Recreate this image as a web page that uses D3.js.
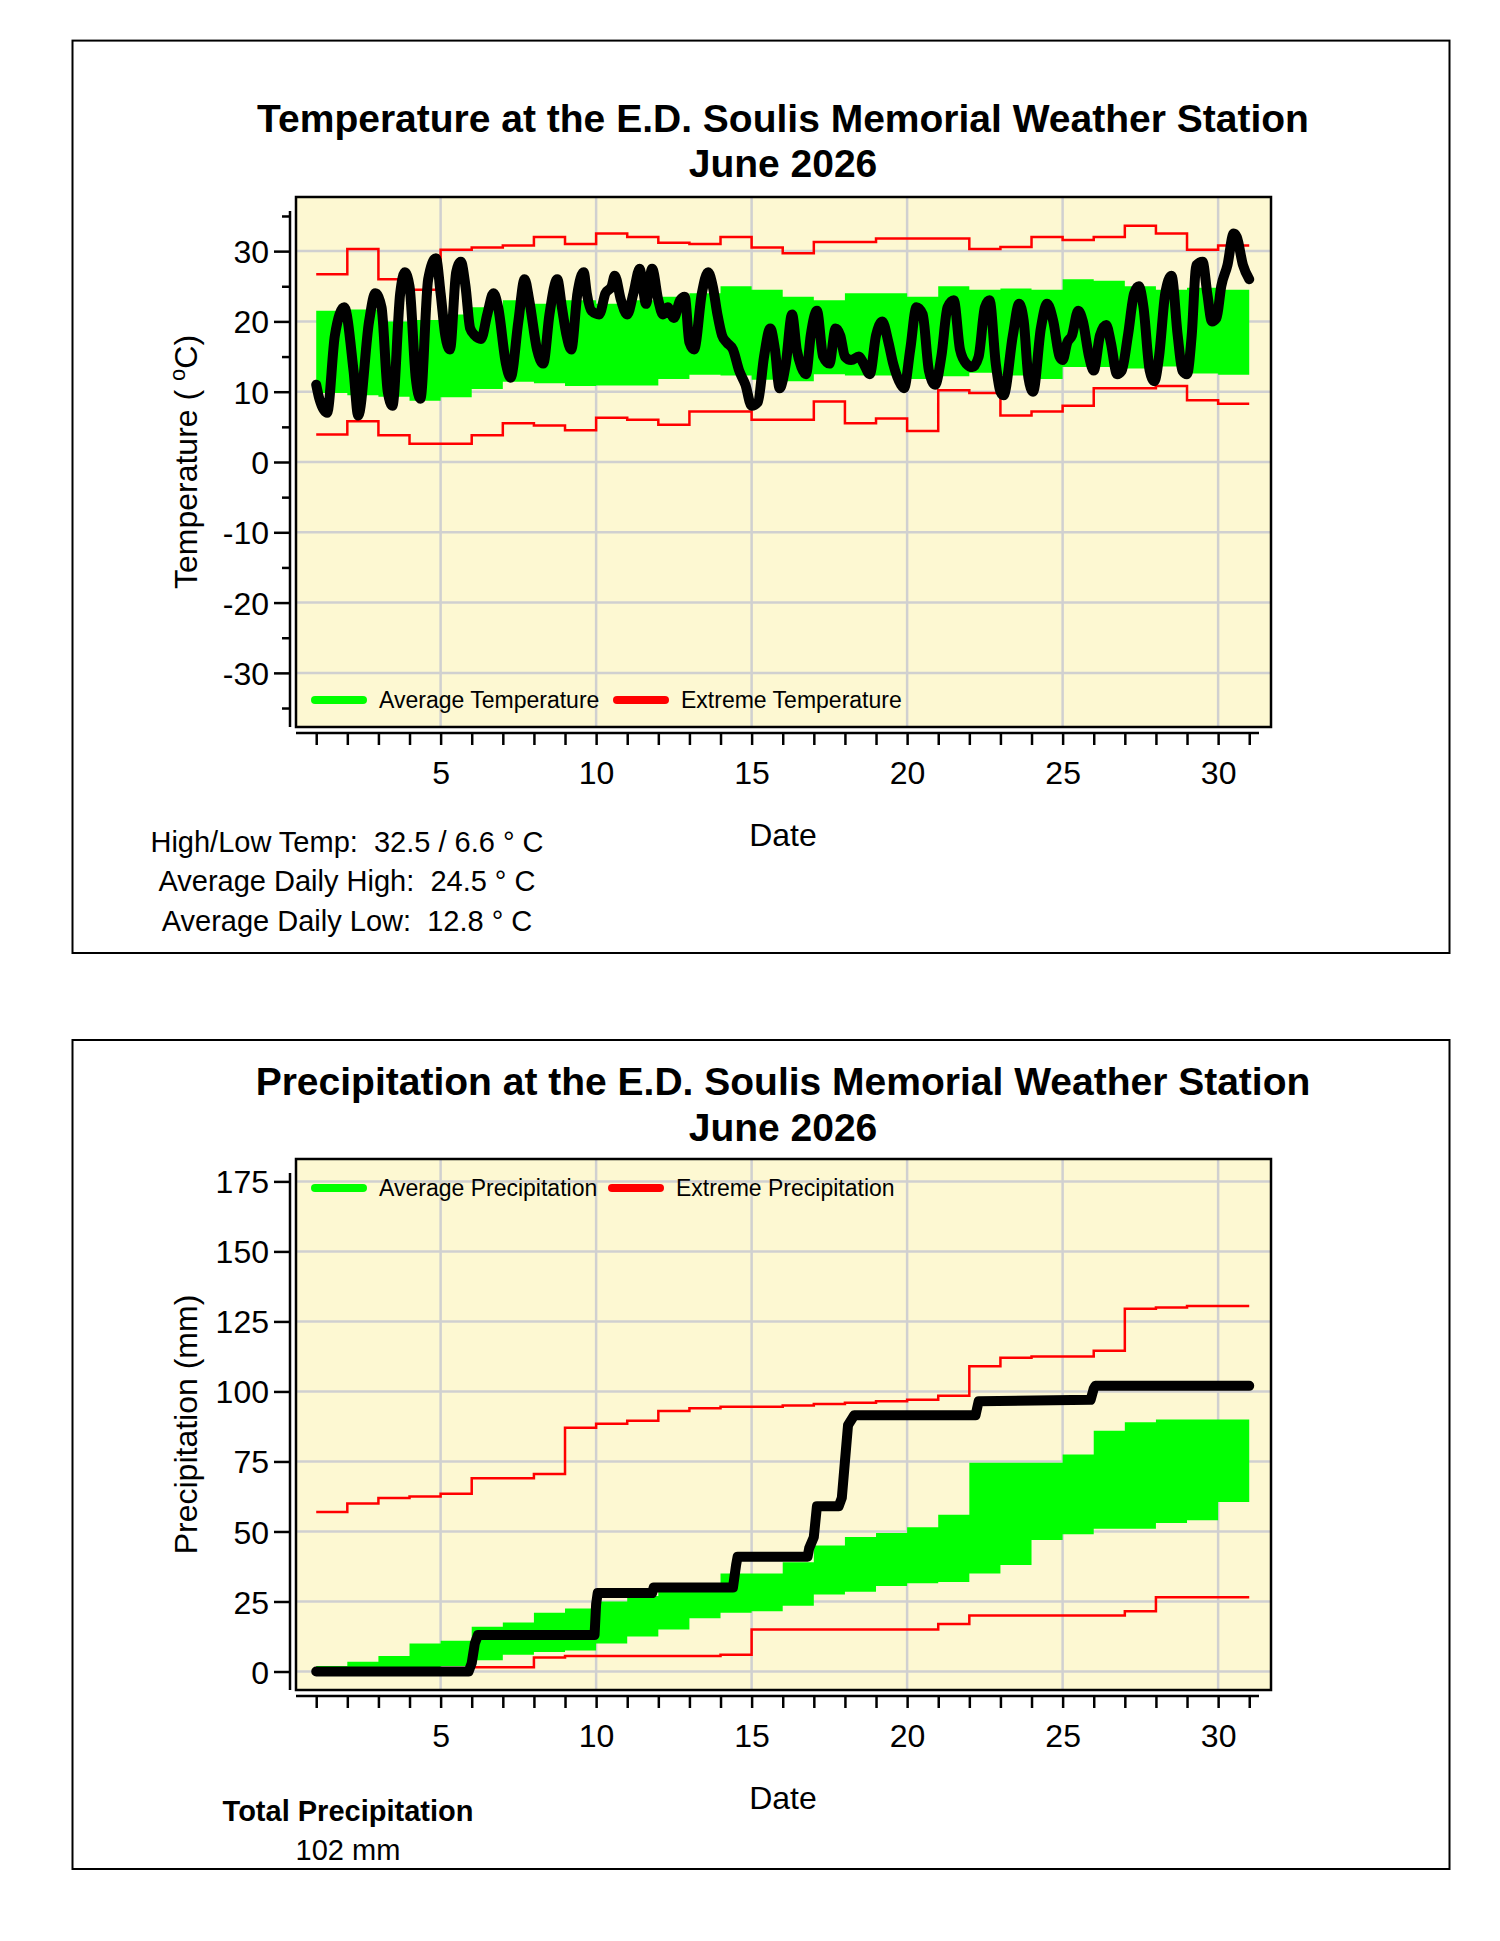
<!DOCTYPE html>
<html><head><meta charset="utf-8">
<script src="https://cdn.jsdelivr.net/npm/d3@7"></script>
<style>body{margin:0;background:#fff}text{font-family:Arial,"Liberation Sans",sans-serif}</style>
</head><body><svg id="stage" width="1500" height="1941"></svg>
<script>
/* ---------- data ---------- */
const days = d3.range(1, 31);
const avg_temp_hi = [21.5,21.7,20,20.2,21,22,23,22.5,23,22.5,23,23.5,24,25,24.5,23.5,23,24,24,23.5,25,24.5,24.7,24.5,26,25.8,25,24.5,24.8,24.5];
const avg_temp_lo = [9.8,9.5,9.3,8.7,9.2,10.4,11.4,11.2,10.8,10.9,10.9,11.8,12.4,12.3,11.7,11.5,12.5,12.3,12.3,11.8,12.2,12.7,12.3,11.8,13.5,13.5,13.3,13.6,12.6,12.4];
const ext_temp_hi = [26.7,30.3,26,24.5,30.2,30.5,30.8,32,31,32.5,32,31.2,31,32,30.5,29.7,31.3,31.3,31.8,31.8,31.8,30.3,30.6,32,31.6,32,33.6,32.5,30.2,30.8];
const ext_temp_lo = [3.9,5.8,3.8,2.6,2.6,3.8,5.5,5.2,4.5,6.3,6,5.3,7.2,7.2,6,6,8.6,5.5,6.2,4.4,10.2,9.8,6.6,7.2,8,10.5,10.5,10.8,8.8,8.3];
// observed temperature trace [day, deg C]
const temp_obs = [[1.0,11],[1.1,9],[1.35,7],[1.6,18],[1.9,22],[2.2,13],[2.35,6.6],[2.7,20],[2.9,24],[3.1,22],[3.3,10],[3.45,8],[3.7,24],[3.85,27],[4.0,25],[4.2,12],[4.35,9],[4.6,26],[4.85,29],[5.0,24],[5.15,18],[5.3,16],[5.5,27],[5.65,28.5],[5.8,25],[5.95,19],[6.1,18],[6.3,17.5],[6.5,21],[6.7,24],[6.85,22],[7.1,14],[7.25,12],[7.5,20],[7.7,26],[7.85,23],[8.1,16],[8.3,14],[8.5,21],[8.75,26],[8.9,22],[9.05,18],[9.2,16],[9.4,24],[9.6,27],[9.7,24],[9.85,21.5],[10.1,21],[10.3,24],[10.5,25],[10.6,26.5],[10.8,23],[11.0,21],[11.2,24],[11.4,27.5],[11.5,25],[11.6,22.5],[11.8,27.5],[12.0,23],[12.15,21],[12.3,22],[12.5,20.5],[12.7,23],[12.85,23.5],[13.0,17],[13.15,16],[13.4,24],[13.6,27],[13.75,25],[13.9,21],[14.05,18],[14.2,17],[14.4,16],[14.6,13],[14.8,11],[15.0,8],[15.2,8.5],[15.4,15],[15.6,19],[15.75,16],[15.9,10.5],[16.1,14],[16.3,21],[16.45,16],[16.6,13.5],[16.75,12.5],[16.9,18],[17.1,21.5],[17.3,15],[17.5,14],[17.7,19],[17.85,18],[18.0,15],[18.2,14.5],[18.45,15],[18.6,14],[18.8,12.5],[19.0,18],[19.2,20],[19.4,17],[19.55,14],[19.8,11],[19.9,10.5],[20.1,16],[20.3,22],[20.5,21],[20.7,13],[20.9,11],[21.1,15],[21.3,22],[21.5,23],[21.7,16],[21.9,14],[22.1,13.5],[22.3,15],[22.5,22],[22.65,23],[22.85,14],[23.0,10],[23.1,9.5],[23.4,18],[23.6,22.5],[23.75,20],[23.9,12],[24.05,10],[24.3,19],[24.5,22.5],[24.7,20],[24.9,15],[25.0,14.5],[25.15,17],[25.3,18],[25.5,21.5],[25.65,20],[25.85,15],[26.0,13],[26.2,18],[26.4,19.5],[26.55,17],[26.75,12.5],[26.9,13],[27.1,18],[27.3,24],[27.45,25],[27.6,22],[27.8,13],[27.95,11.5],[28.1,15],[28.3,24],[28.5,26.5],[28.7,18],[28.85,13],[29.0,12.5],[29.15,18],[29.3,28],[29.5,28.5],[29.65,24],[29.8,20],[29.95,20.5],[30.1,25],[30.3,28],[30.5,32.5],[30.6,32],[30.8,28],[31.0,26]];

const avg_prec_hi = [2,3.5,5.5,10,11,16,17.5,21,22.5,25,27,30,31,35,35,39,45,48,49.5,51.5,56,74.5,74.5,74.5,77.5,86,89,90,90,90];
const avg_prec_lo = [0,0.5,0.5,1.5,2,4,6,7,7.5,10,12.5,15,19,21,21.5,23.5,27.5,28.5,30.5,31.5,32,35,38,47,49,51,51,53,54,60.5];
const ext_prec_hi = [57,60,62,62.5,63.5,69,69,70.5,87,88.5,89.5,93,94,94.5,94.5,95,95.5,96,96.5,97,98.5,109,112,112.5,112.5,114.5,129.5,130,130.5,130.5];
const ext_prec_lo = [0,0,0,0,0.5,1.5,1.5,5,5.5,5.5,5.5,5.5,5.5,6,15,15,15,15,15,15,17,20,20,20,20,20,21.5,26.5,26.5,26.5];
// observed cumulative precipitation [day, mm]
const prec_obs = [[1,0],[5.9,0],[6.0,3],[6.1,10],[6.2,13],[9.95,13],[10.0,24],[10.05,28],[11.8,28],[11.85,30],[14.4,30],[14.5,38],[14.55,41],[16.8,41],[16.85,44],[17.0,48],[17.1,59],[17.8,59],[17.9,62],[18.0,75],[18.1,88],[18.3,91.5],[22.2,91.5],[22.3,96.5],[25.9,97],[26.0,101],[26.05,102],[31.0,102]];

const temp_ticks = [-30,-20,-10,0,10,20,30];
const prec_ticks = [0,25,50,75,100,125,150,175];
const x_ticks = [5,10,15,20,25,30];

/* ---------- setup ---------- */
const svg = d3.select("#stage");
const left = 296, right = 1271;
const x = d3.scaleLinear().domain([0.35, 31.7]).range([left, right]);

function step_series(arr) {
  // each day value holds from day d to d+1
  const pts = arr.map((v, i) => [days[i], v]);
  pts.push([31, arr[arr.length - 1]]);
  return pts;
}

function panel(o) {
  const top = o.top, bottom = o.bottom;
  const y = d3.scaleLinear().domain(o.domain).range([bottom, top]);
  svg.append("rect").attr("x", 72.5).attr("y", o.box[0]).attr("width", 1377).attr("height", o.box[1] - o.box[0])
    .attr("fill", "none").attr("stroke", "#000").attr("stroke-width", 2);
  o.title.forEach((t, i) => svg.append("text").attr("x", 783).attr("y", o.title_y[i]).attr("text-anchor", "middle")
    .attr("font-size", 39).attr("font-weight", "bold").text(t));

  svg.append("rect").attr("x", left).attr("y", top).attr("width", right - left).attr("height", bottom - top).attr("fill", "#fdf8d2");
  const grid = svg.append("g").attr("stroke", "#d0d0d0").attr("stroke-width", 2.5);
  x_ticks.forEach(t => grid.append("line").attr("x1", x(t)).attr("x2", x(t)).attr("y1", top).attr("y2", bottom));
  o.ticks.forEach(t => grid.append("line").attr("x1", left).attr("x2", right).attr("y1", y(t)).attr("y2", y(t)));

  const band = d3.area().curve(d3.curveStepAfter).x(d => x(d[0])).y0(d => y(d[1])).y1(d => y(d[2]));
  const bp = step_series(o.avg_hi).map((d, i) => [d[0], (o.avg_lo[i] ?? o.avg_lo[o.avg_lo.length - 1]), d[1]]);
  svg.append("path").attr("d", band(bp)).attr("fill", "#00ff00");

  const step = d3.line().curve(d3.curveStepAfter).x(d => x(d[0])).y(d => y(d[1]));
  [o.ext_hi, o.ext_lo].forEach(s => svg.append("path").attr("d", step(step_series(s)))
    .attr("fill", "none").attr("stroke", "#ff0000").attr("stroke-width", 2.5));

  const obs = d3.line().curve(o.obs_curve).x(d => x(d[0])).y(d => y(d[1]));
  svg.append("path").attr("d", obs(o.obs)).attr("fill", "none").attr("stroke", "#000")
    .attr("stroke-width", 10).attr("stroke-linejoin", "round").attr("stroke-linecap", "round");

  svg.append("rect").attr("x", left).attr("y", top).attr("width", right - left).attr("height", bottom - top)
    .attr("fill", "none").attr("stroke", "#000").attr("stroke-width", 2.5);

  // axes
  const ya = svg.append("g").attr("transform", `translate(${left - 6},0)`)
    .call(d3.axisLeft(y).tickValues(o.ticks).tickSize(16).tickPadding(5).tickFormat(d3.format("d")));
  ya.select(".domain").remove();
  ya.selectAll("text").attr("font-size", 32).attr("font-family", "Arial, Liberation Sans, sans-serif").attr("dy", "0.36em")
    .text(d => d < 0 ? "-" + Math.abs(d) : d);
  ya.selectAll("line").attr("stroke-width", 2.5);
  if (o.minor) {
    const ym = svg.append("g").attr("transform", `translate(${left - 6},0)`)
      .call(d3.axisLeft(y).tickValues(o.minor).tickSize(8).tickFormat(""));
    ym.select(".domain").remove();
    ym.selectAll("line").attr("stroke-width", 2.5);
  }
  svg.append("line").attr("x1", left - 6).attr("x2", left - 6).attr("y1", top + 14).attr("y2", bottom)
    .attr("stroke", "#000").attr("stroke-width", 2.5);

  const xa = svg.append("g").attr("transform", `translate(0,${bottom + 6})`)
    .call(d3.axisBottom(x).tickValues(d3.range(1, 32)).tickSize(12).tickPadding(16)
      .tickFormat(d => x_ticks.includes(d) ? d : ""));
  xa.select(".domain").remove();
  xa.append("line").attr("x1", left).attr("x2", right - 12).attr("stroke", "#000").attr("stroke-width", 2.5);
  xa.selectAll("text").attr("font-size", 32).attr("font-family", "Arial, Liberation Sans, sans-serif").attr("fill", "#000");
  xa.selectAll(".tick line").attr("stroke-width", 2.5);

  svg.append("text").attr("x", 783).attr("y", o.date_y).attr("text-anchor", "middle").attr("font-size", 32).text("Date");
  svg.append("text").attr("transform", `translate(186,${(top + bottom) / 2}) rotate(-90)`)
    .attr("text-anchor", "middle").attr("font-size", 32).attr("dy", "0.35em").html(o.ylab);

  // legend
  const lg = svg.append("g");
  o.legend.forEach(l => {
    lg.append("line").attr("x1", l.x).attr("x2", l.x + 48).attr("y1", o.legend_y).attr("y2", o.legend_y)
      .attr("stroke", l.c).attr("stroke-width", 8).attr("stroke-linecap", "round");
    lg.append("text").attr("x", l.x + 64).attr("y", o.legend_y).attr("dy", "0.35em").attr("font-size", 23).text(l.t);
  });
}

panel({
  box: [40.6, 953], top: 197, bottom: 727, domain: [-37.7, 37.7], title_y: [132, 177],
  title: ["Temperature at the E.D. Soulis Memorial Weather Station", "June 2026"],
  ticks: temp_ticks, minor: [-35,-25,-15,-5,5,15,25,35],
  avg_hi: avg_temp_hi, avg_lo: avg_temp_lo, ext_hi: ext_temp_hi, ext_lo: ext_temp_lo,
  obs: temp_obs, obs_curve: d3.curveMonotoneX, date_y: 846,
  ylab: 'Temperature ( <tspan dy="-12" font-size="22">o</tspan><tspan dy="12">C)</tspan>',
  legend_y: 700, legend: [{x: 315, c: "#00ff00", t: "Average Temperature"}, {x: 617, c: "#ff0000", t: "Extreme Temperature"}]
});

panel({
  box: [1040, 1869], top: 1159, bottom: 1690, domain: [-6.6, 183], title_y: [1095, 1141],
  title: ["Precipitation at the E.D. Soulis Memorial Weather Station", "June 2026"],
  ticks: prec_ticks, minor: null,
  avg_hi: avg_prec_hi, avg_lo: avg_prec_lo, ext_hi: ext_prec_hi, ext_lo: ext_prec_lo,
  obs: prec_obs, obs_curve: d3.curveLinear, date_y: 1809,
  ylab: "Precipitation (mm)",
  legend_y: 1188, legend: [{x: 315, c: "#00ff00", t: "Average Precipitation"}, {x: 612, c: "#ff0000", t: "Extreme Precipitation"}]
});

/* ---------- stats text ---------- */
const stat_lines = ["High/Low Temp:  32.5 / 6.6 \u00b0 C", "Average Daily High:  24.5 \u00b0 C", "Average Daily Low:  12.8 \u00b0 C"];
const stat_y = [852, 891, 931];
stat_lines.forEach((t, i) => {
  svg.append("text").attr("x", 347).attr("y", stat_y[i]).attr("text-anchor", "middle").attr("font-size", 29)
    .attr("xml:space", "preserve").style("white-space", "pre").text(t);
});
svg.append("text").attr("x", 348).attr("y", 1821).attr("text-anchor", "middle").attr("font-size", 29).attr("font-weight", "bold").text("Total Precipitation");
svg.append("text").attr("x", 348).attr("y", 1860).attr("text-anchor", "middle").attr("font-size", 29).text("102 mm");
</script></body></html>
